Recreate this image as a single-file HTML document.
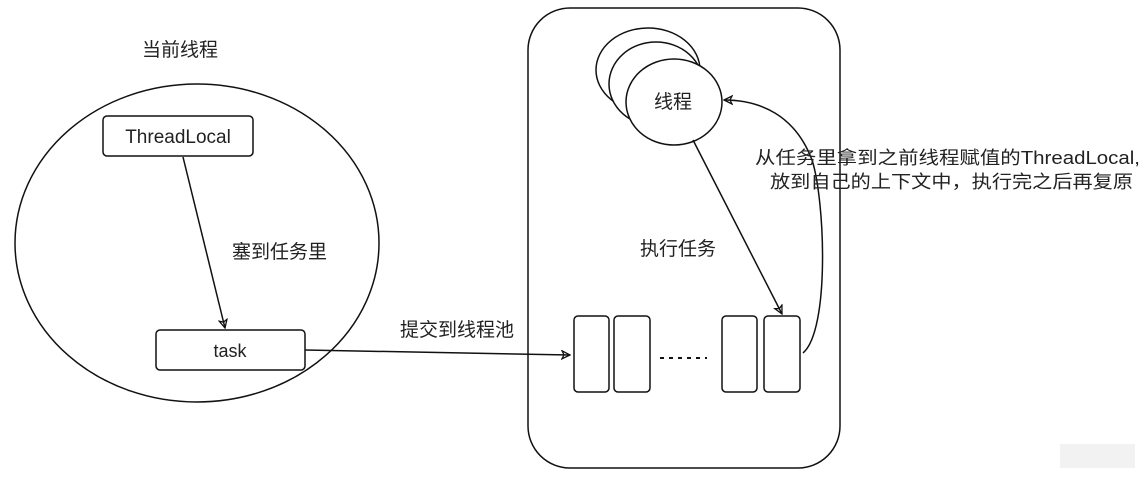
<!DOCTYPE html>
<html><head><meta charset="utf-8"><style>
body{margin:0;background:#fff;}
svg text{font-family:"Liberation Sans","Noto Sans CJK SC",sans-serif;fill:#222;}
</style></head><body>
<svg width="1144" height="476" viewBox="0 0 1144 476" xmlns="http://www.w3.org/2000/svg">
<defs><marker id="a" markerWidth="10" markerHeight="10" refX="9" refY="5" orient="auto" markerUnits="userSpaceOnUse"><path d="M1,1 L9,5 L1,9 L3,5 Z" fill="none" stroke="#111" stroke-width="1.3"/></marker></defs>
<g fill="none" stroke="#111" stroke-width="1.5">
<ellipse cx="197" cy="243" rx="182" ry="159"/>
<rect x="103" y="116" width="150" height="40" rx="4"/>
<rect x="156" y="330" width="149" height="40" rx="4"/>
<line x1="183" y1="157" x2="225" y2="328" marker-end="url(#a)"/>
<path d="M305,350 L570,355" marker-end="url(#a)"/>
<rect x="528" y="8" width="312" height="460" rx="42"/>
<ellipse cx="648" cy="70" rx="52" ry="42" fill="#fff"/>
<ellipse cx="656" cy="84" rx="47" ry="42" fill="#fff"/>
<ellipse cx="674" cy="102" rx="48" ry="43" fill="#fff"/>
<rect x="574" y="316" width="35" height="76" rx="4"/>
<rect x="614" y="316" width="36" height="76" rx="4"/>
<rect x="722" y="316" width="35" height="76" rx="4"/>
<rect x="764" y="316" width="36" height="76" rx="4"/>
<line x1="693" y1="140" x2="782" y2="314" marker-end="url(#a)"/>
<path d="M803,353 C830,330 825,200 812,160 C795,115 760,100 724,100" marker-end="url(#a)"/>
<line x1="660" y1="358" x2="707" y2="358" stroke-dasharray="4,5" stroke-width="2"/>
</g>
<g font-size="19">
<text x="142" y="56">当前线程</text>
<text x="232" y="258">塞到任务里</text>
<text x="400" y="336">提交到线程池</text>
<text x="178" y="143" text-anchor="middle">ThreadLocal</text>
<text x="230" y="357" text-anchor="middle" font-size="18">task</text>
<text x="673" y="108" text-anchor="middle">线程</text>
<text x="640" y="255">执行任务</text>
<text x="755" y="164" font-size="18" textLength="385" lengthAdjust="spacingAndGlyphs">从任务里拿到之前线程赋值的ThreadLocal,</text>
<text x="770" y="188" font-size="18" textLength="363" lengthAdjust="spacingAndGlyphs">放到自己的上下文中，执行完之后再复原</text>
</g>
<rect x="1060" y="444" width="75" height="24" fill="#f2f2f2"/>
</svg>
</body></html>
